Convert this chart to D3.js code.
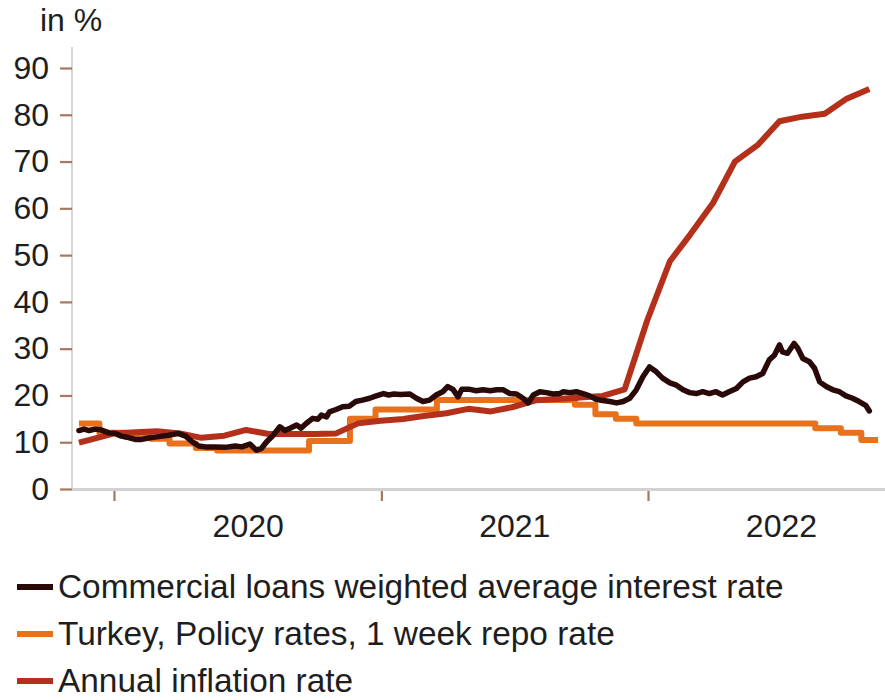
<!DOCTYPE html>
<html>
<head>
<meta charset="utf-8">
<script src="https://cdn.jsdelivr.net/npm/d3@7"></script>
<style>
  html, body { margin: 0; padding: 0; background: #fff; }
  svg { display: block; font-family: "Liberation Sans", Arial, sans-serif; }
</style>
</head>
<body>
<svg id="chart" width="885" height="700"></svg>
<script>
// Commercial loans weighted average interest rate (weekly, %)
const loanRate = [
  ["2019-11-14",12.5],["2019-11-21",12.8],["2019-11-28",12.5],["2019-12-06",12.8],["2019-12-15",12.6],
  ["2019-12-25",12.0],["2020-01-02",11.9],["2020-01-11",11.3],["2020-01-21",11.0],["2020-01-30",10.6],
  ["2020-02-08",10.6],["2020-02-17",10.9],["2020-03-02",11.2],["2020-03-16",11.5],["2020-03-29",11.9],
  ["2020-04-08",11.3],["2020-04-17",10.1],["2020-04-26",9.2],["2020-05-05",9.0],["2020-05-19",9.0],
  ["2020-06-01",8.9],["2020-06-15",9.2],["2020-06-24",9.0],["2020-07-05",9.6],["2020-07-14",8.3],
  ["2020-07-21",8.7],["2020-07-28",10.1],["2020-08-06",11.5],["2020-08-15",13.3],["2020-08-22",12.5],
  ["2020-08-29",13.0],["2020-09-07",13.7],["2020-09-13",13.0],["2020-09-20",14.0],["2020-09-29",15.1],
  ["2020-10-06",14.9],["2020-10-11",15.8],["2020-10-18",15.4],["2020-10-22",16.5],["2020-10-31",17.0],
  ["2020-11-09",17.6],["2020-11-18",17.7],["2020-11-27",18.7],["2020-12-06",19.0],["2020-12-16",19.4],
  ["2020-12-25",19.9],["2021-01-04",20.4],["2021-01-11",20.1],["2021-01-18",20.3],["2021-01-27",20.2],
  ["2021-02-09",20.3],["2021-02-18",19.4],["2021-02-27",18.7],["2021-03-08",19.0],["2021-03-17",20.1],
  ["2021-03-26",20.8],["2021-04-02",21.9],["2021-04-09",21.3],["2021-04-16",19.7],["2021-04-21",21.3],
  ["2021-05-02",21.3],["2021-05-11",21.0],["2021-05-20",21.2],["2021-05-30",21.0],["2021-06-08",21.2],
  ["2021-06-17",21.2],["2021-06-26",20.4],["2021-07-05",20.3],["2021-07-14",19.4],["2021-07-21",18.4],
  ["2021-07-28",20.1],["2021-08-06",20.8],["2021-08-15",20.6],["2021-08-24",20.3],["2021-09-02",20.4],
  ["2021-09-07",20.8],["2021-09-16",20.6],["2021-09-25",20.8],["2021-10-04",20.4],["2021-10-13",19.9],
  ["2021-10-22",19.2],["2021-10-31",18.9],["2021-11-10",18.7],["2021-11-19",18.4],["2021-11-28",18.7],
  ["2021-12-07",19.4],["2021-12-16",21.2],["2021-12-25",24.0],["2022-01-03",26.1],["2022-01-12",25.1],
  ["2022-01-21",23.7],["2022-01-31",22.7],["2022-02-09",22.2],["2022-02-18",21.2],["2022-02-27",20.6],
  ["2022-03-08",20.4],["2022-03-17",20.8],["2022-03-26",20.4],["2022-04-04",20.8],["2022-04-13",20.1],
  ["2022-04-22",20.8],["2022-05-02",21.5],["2022-05-11",22.9],["2022-05-20",23.7],["2022-05-29",24.0],
  ["2022-06-07",24.7],["2022-06-16",27.6],["2022-06-23",28.6],["2022-06-30",30.8],["2022-07-04",29.3],
  ["2022-07-11",29.0],["2022-07-20",31.1],["2022-07-25",30.1],["2022-08-01",27.9],["2022-08-10",27.2],
  ["2022-08-17",25.8],["2022-08-24",22.9],["2022-09-02",21.9],["2022-09-11",21.2],["2022-09-20",20.8],
  ["2022-09-29",19.9],["2022-10-08",19.4],["2022-10-17",18.7],["2022-10-26",17.9],["2022-10-31",16.7]
];

// One week repo rate (effective date of each change, %)
const repoRate = [
  ["2019-11-14",14.0],["2019-12-12",12.0],["2020-01-16",11.25],["2020-02-20",10.75],["2020-03-17",9.75],
  ["2020-04-22",8.75],["2020-05-21",8.25],["2020-09-24",10.25],["2020-11-19",15.0],["2020-12-24",17.0],
  ["2021-03-18",19.0],["2021-09-23",18.0],["2021-10-21",16.0],["2021-11-18",15.0],["2021-12-16",14.0],
  ["2022-08-18",13.0],["2022-09-22",12.0],["2022-10-20",10.5],["2022-11-12",10.5]
];

// Annual consumer price inflation (month end, %)
const inflation = [
  ["2019-11-14",9.9],["2019-11-30",10.56],["2019-12-31",11.84],["2020-01-31",12.15],["2020-02-29",12.37],
  ["2020-03-31",11.86],["2020-04-30",10.94],["2020-05-31",11.39],["2020-06-30",12.62],["2020-07-31",11.76],
  ["2020-08-31",11.77],["2020-09-30",11.75],["2020-10-31",11.89],["2020-11-30",14.03],["2020-12-31",14.60],
  ["2021-01-31",14.97],["2021-02-28",15.61],["2021-03-31",16.19],["2021-04-30",17.14],["2021-05-31",16.59],
  ["2021-06-30",17.53],["2021-07-31",18.95],["2021-08-31",19.25],["2021-09-30",19.58],["2021-10-31",19.89],
  ["2021-11-30",21.31],["2021-12-31",36.08],["2022-01-31",48.69],["2022-02-28",54.44],["2022-03-31",61.14],
  ["2022-04-30",69.97],["2022-05-31",73.50],["2022-06-30",78.62],["2022-07-31",79.60],["2022-08-31",80.21],
  ["2022-09-30",83.45],["2022-10-31",85.51]
];

const yTicks = [0, 10, 20, 30, 40, 50, 60, 70, 80, 90];
const yearTicks = ["2020-01-01", "2021-01-01", "2022-01-01"];
const yearLabels = ["2020", "2021", "2022"];
const yearLabelDates = ["2020-07-02", "2021-07-02", "2022-07-02"];
const unitLabel = "in %";
const seriesNames = [
  "Commercial loans weighted average interest rate",
  "Turkey, Policy rates, 1 week repo rate",
  "Annual inflation rate"
];
const seriesColors = ["#2a0909", "#e8711e", "#b5301a"];

const parse = d3.timeParse("%Y-%m-%d");
const toPts = arr => arr.map(([d, v]) => ({ date: parse(d), v }));

const svg = d3.select("#chart");
const textColor = "#1e1e1e";
const tickColor = "#a9775f";

const x = d3.scaleTime()
  .domain([parse("2020-01-01"), parse("2022-01-01")])
  .range([114, 648]);
const y = d3.scaleLinear().domain([0, 90]).range([489, 68]);

const plotLeft = 72, plotRight = 885;

// unit label
svg.append("text")
  .attr("x", 40).attr("y", 31)
  .attr("font-size", 32).attr("fill", textColor)
  .text(unitLabel);

// vertical axis line
svg.append("line")
  .attr("x1", plotLeft).attr("x2", plotLeft)
  .attr("y1", 47).attr("y2", 490)
  .attr("stroke", "#d6d6d6").attr("stroke-width", 2);

// y axis ticks and labels
const yAxis = svg.append("g")
  .attr("transform", `translate(${plotLeft},0)`)
  .call(d3.axisLeft(y).tickValues(yTicks).tickSize(12).tickPadding(11).tickSizeOuter(0));
yAxis.select(".domain").remove();
yAxis.selectAll(".tick line").attr("stroke", tickColor).attr("stroke-width", 2.2);
yAxis.selectAll(".tick text")
  .attr("font-size", 32).attr("fill", textColor)
  .attr("font-family", "Liberation Sans, Arial, sans-serif");

// horizontal axis line
svg.append("line")
  .attr("x1", plotLeft).attr("x2", plotRight)
  .attr("y1", 489.5).attr("y2", 489.5)
  .attr("stroke", "#d2d2d2").attr("stroke-width", 3);

// year boundary ticks
const xTickAxis = svg.append("g")
  .attr("transform", "translate(0,491)")
  .call(d3.axisBottom(x).tickValues(yearTicks.map(parse)).tickSize(10).tickFormat(""));
xTickAxis.select(".domain").remove();
xTickAxis.selectAll(".tick line").attr("stroke", tickColor).attr("stroke-width", 2.2);

// year labels centred in each year
const xLabelAxis = svg.append("g")
  .attr("transform", "translate(0,489)")
  .call(d3.axisBottom(x).tickValues(yearLabelDates.map(parse)).tickSize(0).tickPadding(25)
    .tickFormat((d, i) => yearLabels[i]));
xLabelAxis.select(".domain").remove();
xLabelAxis.selectAll(".tick text")
  .attr("font-size", 32).attr("fill", textColor)
  .attr("font-family", "Liberation Sans, Arial, sans-serif");

// series lines
const line = d3.line().x(d => x(d.date)).y(d => y(d.v));
const stepLine = d3.line().x(d => x(d.date)).y(d => y(d.v)).curve(d3.curveStepAfter);

const plot = svg.append("g").attr("fill", "none").attr("stroke-linejoin", "round");

plot.append("path").datum(toPts(repoRate))
  .attr("d", stepLine).attr("stroke", seriesColors[1]).attr("stroke-width", 6);
plot.append("path").datum(toPts(inflation))
  .attr("d", line).attr("stroke", seriesColors[2]).attr("stroke-width", 6);
plot.append("path").datum(toPts(loanRate))
  .attr("d", line).attr("stroke", seriesColors[0]).attr("stroke-width", 5.5)
  .attr("stroke-linecap", "round");

// legend
const legend = svg.append("g");
seriesNames.forEach((name, i) => {
  const cy = 587 + i * 47;
  legend.append("line")
    .attr("x1", 17).attr("x2", 53).attr("y1", cy).attr("y2", cy)
    .attr("stroke", seriesColors[i]).attr("stroke-width", 6);
  legend.append("text")
    .attr("x", 58).attr("y", cy + 11)
    .attr("font-size", 33.4).attr("fill", textColor)
    .text(name);
});
</script>
</body>
</html>
